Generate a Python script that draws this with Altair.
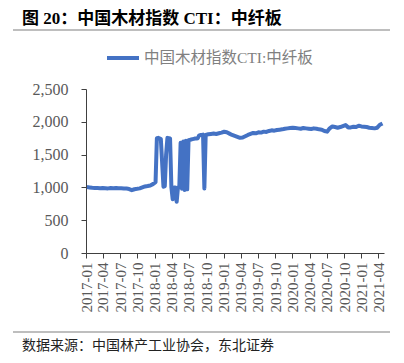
import altair as alt
import pandas as pd

dates = [
    "2017-01-06", "2017-01-20", "2017-02-03", "2017-02-17", "2017-03-03", "2017-03-17",
    "2017-03-31", "2017-04-14", "2017-04-28", "2017-05-12", "2017-05-26", "2017-06-09",
    "2017-06-23", "2017-07-07", "2017-07-21", "2017-08-04", "2017-08-18", "2017-09-01",
    "2017-09-15", "2017-09-29", "2017-10-13", "2017-10-27", "2017-11-10", "2017-11-24",
    "2017-12-08", "2017-12-22", "2018-01-05",
    "2018-01-12", "2018-01-19", "2018-01-26", "2018-02-02", "2018-02-16", "2018-02-23",
    "2018-03-02", "2018-03-09", "2018-03-16", "2018-03-23", "2018-03-30", "2018-04-06",
    "2018-04-13", "2018-04-20", "2018-04-27", "2018-05-04", "2018-05-11", "2018-05-18",
    "2018-05-25", "2018-06-01", "2018-06-08", "2018-06-15", "2018-06-22", "2018-06-29",
    "2018-07-06", "2018-07-13", "2018-07-20", "2018-07-27", "2018-08-03", "2018-08-10",
    "2018-08-17", "2018-08-24", "2018-08-31", "2018-09-07", "2018-09-14", "2018-09-21",
    "2018-09-28", "2018-10-12", "2018-10-26",
    "2018-11-09", "2018-11-23", "2018-12-07", "2018-12-21", "2019-01-04", "2019-01-18",
    "2019-02-01", "2019-02-15", "2019-03-01", "2019-03-15", "2019-03-29", "2019-04-12",
    "2019-04-26", "2019-05-10", "2019-05-24", "2019-06-07", "2019-06-21", "2019-07-05",
    "2019-07-19", "2019-08-02", "2019-08-16", "2019-08-30", "2019-09-13", "2019-09-27",
    "2019-10-11", "2019-10-25", "2019-11-08", "2019-11-22", "2019-12-06", "2019-12-20",
    "2020-01-03", "2020-01-17", "2020-01-31", "2020-02-14", "2020-02-28", "2020-03-13",
    "2020-03-27", "2020-04-10", "2020-04-24", "2020-05-08", "2020-05-22", "2020-06-05",
    "2020-06-19", "2020-07-03", "2020-07-17", "2020-07-31", "2020-08-14", "2020-08-28",
    "2020-09-11", "2020-09-25", "2020-10-09", "2020-10-23", "2020-11-06", "2020-11-20",
    "2020-12-04", "2020-12-18", "2021-01-01", "2021-01-15", "2021-01-29", "2021-02-12",
    "2021-02-26", "2021-03-12", "2021-03-26", "2021-04-09", "2021-04-23",
]
values = [
    1005, 1000, 995, 992, 990, 988,
    990, 988, 985, 990, 988, 990,
    986, 988, 985, 982, 975, 958,
    972, 978, 985, 1000, 1015, 1022,
    1030, 1050, 1080,
    1750, 1755, 1745, 1740, 1010, 1020,
    1500, 1755, 1750, 1745, 1000, 820,
    1000, 1000, 780, 1000, 1000, 1680,
    980, 1700, 960, 1710, 970, 1720,
    1725, 1730, 1735, 1740, 1745, 1745,
    1750, 1790, 1800, 1800, 1805, 985,
    1800, 1810, 1815,
    1820, 1815, 1825, 1835, 1848, 1840,
    1820, 1800, 1785, 1770, 1755, 1760,
    1780, 1800, 1815, 1830, 1825, 1840,
    1835, 1850, 1845, 1860, 1870, 1865,
    1875, 1880, 1885, 1895, 1900, 1905,
    1910, 1905, 1900, 1895, 1905, 1900,
    1895, 1890, 1900, 1895, 1885, 1880,
    1860, 1850, 1900, 1930, 1920, 1910,
    1920, 1935, 1950, 1915, 1915, 1925,
    1920, 1940, 1930, 1925, 1920, 1910,
    1905, 1900, 1910, 1955, 1975,
]

series_name = "中国木材指数CTI:中纤板"
title_text = "图 20：中国木材指数 CTI：中纤板"
source_text = "数据来源：中国林产工业协会，东北证券"
tick_months = [(y, m) for y in range(2017, 2022) for m in (1, 4, 7, 10) if (y, m) <= (2021, 4)]

df = pd.DataFrame({"date": dates, "value": values})

W, H = 298, 164
serif = "Liberation Serif, Noto Sans CJK SC"

x_axis = alt.Axis(
    values=[alt.DateTime(year=y, month=m, date=1, utc=True) for y, m in tick_months],
    labelExpr="utcFormat(datum.value, '%Y-%m')",
    labelAngle=270, labelAlign="right", labelBaseline="middle",
    labelFont="Liberation Serif", labelFontSize=15, labelColor="#595959",
    labelPadding=4, tickSize=5, tickColor="#404040", domainColor="#404040",
    grid=False, title=None, labelOverlap=False,
)
y_axis = alt.Axis(
    values=[0, 500, 1000, 1500, 2000, 2500], format=",.0f",
    labelFont="Liberation Serif", labelFontSize=16, labelColor="#595959",
    labelPadding=13, tickSize=5, tickColor="#404040", domainColor="#404040",
    grid=False, title=None,
)

line = alt.Chart(df).mark_line(color="#4472C4", strokeWidth=4, strokeJoin="round").encode(
    x=alt.X("date:T", axis=x_axis,
            scale=alt.Scale(type="utc", domain=[alt.DateTime(year=2017, month=1, date=1, utc=True),
                                                alt.DateTime(year=2021, month=5, date=1, utc=True)])),
    y=alt.Y("value:Q", axis=y_axis, scale=alt.Scale(domain=[0, 2500], nice=False)),
)

one = alt.Data(values=[{"k": 1}])

def rule(x1, x2, y, color, width):
    return alt.Chart(one).mark_rule(color=color, strokeWidth=width).encode(
        x=alt.value(x1), x2=alt.value(x2), y=alt.value(y))

def text(t, x, y, size, color, font, weight="normal"):
    return alt.Chart(one).mark_text(text=t, align="left", baseline="middle", fontSize=size,
                                    color=color, font=font, fontWeight=weight).encode(
        x=alt.value(x), y=alt.value(y))

title_rule = rule(-73, 304, -59, "#7f7f7f", 1.2)
footer_rule = rule(-73, 304, 243, "#7f7f7f", 1.2)
title = text(title_text, -64, -70, 17, "#000000", serif, "bold")
footer = text(source_text, -64, 257, 14, "#222222", "Noto Sans CJK SC")
legend_line = rule(21, 53, -31, "#4472C4", 4)
legend_text = text(series_name, 58, -31, 15.5, "#808080", serif)

chart = alt.layer(line, title_rule, footer_rule, title, footer, legend_line, legend_text).properties(
    width=W, height=H,
    autosize=alt.AutoSizeParams(type="none"),
    padding={"left": 78, "top": 81, "right": 10, "bottom": 102},
).configure_view(stroke=None)

chart.save("out.html", embed_options={"renderer": "svg", "actions": False})
